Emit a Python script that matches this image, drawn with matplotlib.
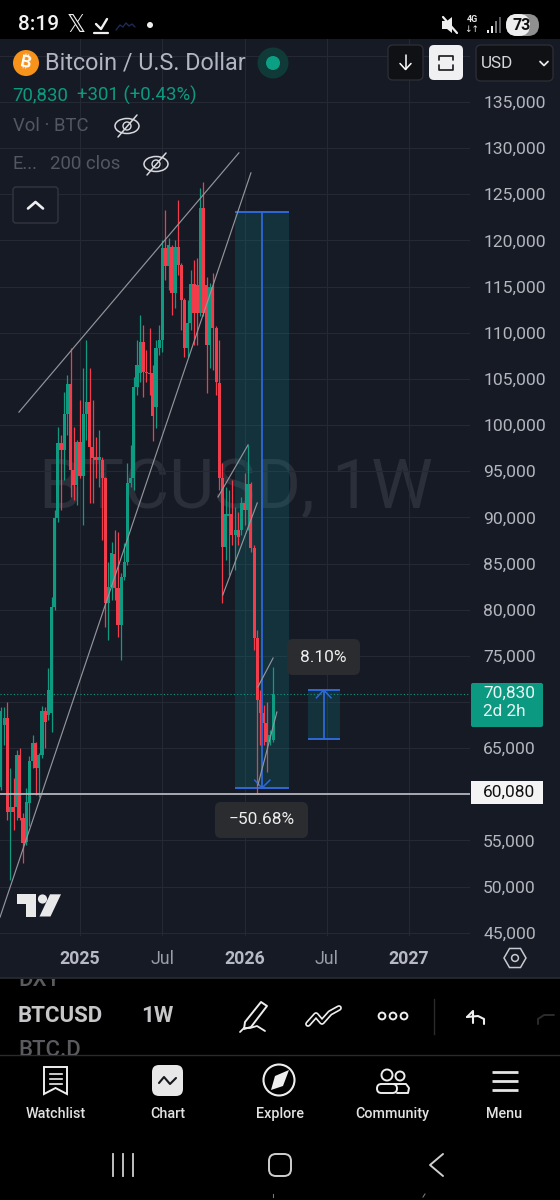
"""BTCUSD weekly chart, phone screenshot look."""

import matplotlib
matplotlib.use("Agg")
import matplotlib.pyplot as plt
from matplotlib.patches import Rectangle, FancyBboxPatch, Circle, Ellipse, Polygon, RegularPolygon
import numpy as np

plt.rcParams["font.family"] = ["Roboto", "DejaVu Sans"]

# weekly candles, week 0 = first week of 2025
first_week = -25
opens = [60790, 67510, 68270, 58070, 58620, 58620, 64260, 57420, 54820, 59050, 63600, 65560, 62850, 64260, 69030,
         68590, 68810, 80290, 89940, 98070, 97310, 101210, 104450, 95140, 93510, 98170, 94490, 101210, 102510, 97630,
         96550, 96220, 96220, 94270, 80720, 82450, 86030, 82340, 78330, 83540, 85160, 93730, 94270, 104120, 105630,
         109000, 105740, 105630, 105630, 101960, 108350, 109210, 119190, 117240, 119300, 114310, 119300, 117340,
         113550, 108350, 111060, 115280, 115180, 112140, 123530, 115180, 108670, 114960, 110520, 104550, 94270, 86790,
         90150, 90370, 88090, 88630, 88630, 91560, 90800, 93620, 86680, 76930, 70220, 68810, 67720, 65660, 65880]
highs = [69460, 69460, 70000, 62850, 61760, 64800, 65010, 57970, 60680, 64150, 66420, 65660, 64470, 69570, 69460,
         73690, 81370, 90800, 99800, 98940, 103590, 105420, 108350, 99800, 98390, 102730, 106180, 109220, 106180,
         102730, 98720, 99470, 96550, 94380, 85160, 87330, 88630, 88410, 83970, 87220, 95900, 97850, 105200, 109210,
         111920, 110840, 108080, 110510, 106500, 109210, 110840, 120060, 123310, 120270, 119510, 120060, 124390,
         117560, 113770, 113550, 116800, 117890, 118100, 125700, 126350, 116050, 115400, 116480, 110730, 109210,
         95900, 93290, 92970, 94050, 91130, 90580, 92210, 94810, 97850, 93840, 87000, 77790, 71300, 69680, 70000,
         66970, 73800]
lows = [60460, 65340, 57210, 50700, 56120, 57210, 57210, 52540, 54500, 56560, 62850, 59920, 59700, 63930, 65010,
        68050, 66750, 79960, 89500, 90800, 94050, 98940, 92210, 91880, 91340, 94270, 89170, 98390, 91560, 91560,
        94270, 93290, 87550, 78110, 76700, 81040, 81040, 77030, 74540, 83210, 84840, 93290, 92970, 103250, 104660,
        103030, 104660, 103250, 98270, 99690, 107590, 107910, 115720, 114630, 111920, 112680, 116260, 110300, 107370,
        107370, 110300, 108670, 108670, 111820, 111820, 103470, 106180, 105960, 103250, 92970, 80720, 85380, 83750,
        87000, 84290, 87000, 88090, 89170, 88630, 86250, 75620, 60080, 65340, 65340, 62410, 65340, 65660]
closes = [69000, 68270, 58070, 58620, 58070, 64260, 57420, 54710, 59160, 63600, 65560, 62850, 64260, 69030, 67830,
          71300, 80290, 89940, 98070, 97310, 101210, 104450, 95140, 93510, 98170, 94490, 101210, 102510, 97630, 96440,
          96220, 96550, 94270, 80720, 82450, 86140, 82340, 78330, 83540, 85160, 93730, 94270, 104120, 106500, 109000,
          105740, 105630, 105530, 100990, 108350, 109210, 119190, 117240, 119510, 114310, 119300, 117340, 113550,
          108350, 111060, 115280, 112140, 112140, 123530, 112140, 108670, 114960, 110520, 104660, 94270, 86790, 90370,
          90370, 88090, 88630, 87870, 91560, 90800, 93620, 86680, 76930, 70220, 68810, 67720, 65660, 66420, 70830]

price_ticks = [45000, 50000, 55000, 60000, 65000, 70000, 75000, 80000, 85000, 90000, 95000, 100000, 105000, 110000,
               115000, 120000, 125000, 130000, 135000]
covered_ticks = [60000, 70000]  # sit under the price tags
hidden_tick = 140000
date_weeks = [0, 26, 52, 78, 104]
date_labels = ["2025", "Jul", "2026", "Jul", "2027"]

last_price = 70830
low_line = 60080

# user drawings as (week, price) pairs
trend_lines = [
    [(-19.3, 101400), (50.2, 129490)],
    [(-25.28, 46680), (54.0, 127320)],
    [(43.6, 92210), (53.1, 97850)],
    [(45.1, 81580), (56.0, 91560)],
    [(56.2, 71620), (61.0, 74760)],
    [(56.2, 60990), (62.2, 68910)],
]
drop_box = (49.0, 66.0, 123080, 60680)
drop_mid = 57.5
rise_box = (72.0, 82.2, 65950, 71300)
rise_mid = 77.0

UP = "#0f9a82"
DOWN = "#f23c4c"
PANEL = "#161a25"
GRID = "#252934"
BLUE = "#2f68d8"
W, H = 560, 1200

fig = plt.figure(figsize=(W / 100, H / 100), dpi=100, facecolor="black")

bg = fig.add_axes([0, 0, 1, 1], zorder=0)
bg.set_xlim(0, W)
bg.set_ylim(H, 0)
bg.axis("off")
bg.add_patch(Rectangle((0, 39), W, 939, color=PANEL, lw=0))
bg.plot([0, W], [978, 978], color="#2b2c30", lw=1.2)

# price panel
ax = fig.add_axes([0, (H - 936) / H, 470 / W, (936 - 39) / H], zorder=1, facecolor=PANEL)
ax.set_xlim(-25.28, 123.22)
ax.set_ylim(44645, 141825)
for s in ax.spines.values():
    s.set_visible(False)

ax.yaxis.tick_right()
ax.set_yticks(price_ticks + [hidden_tick])
ax.set_yticklabels(["" if p in covered_ticks else f"{p:,}" for p in price_ticks] + [""], fontsize=12.6, color="#b4b6bd")
ax.set_xticks(date_weeks)
ax.set_xticklabels(date_labels, fontsize=12.8, color="#b7bac3")
for lab in ax.get_xticklabels():
    if lab.get_text() != "Jul":
        lab.set_fontweight("bold")
    else:
        lab.set_color("#9a9da6")
ax.tick_params(axis="both", length=0)
ax.tick_params(axis="y", pad=9.5)
ax.tick_params(axis="x", pad=10)
ax.grid(True, color=GRID, lw=0.8)
ax.set_axisbelow(True)

# watermark
ax.text(0.502, 93100, "BTCUSD, 1W", transform=ax.get_yaxis_transform(), ha="center", va="center",
        fontsize=50, color="#2b2f3a", zorder=0.5)

# measure boxes
x0, x1, top, bottom = drop_box
ax.add_patch(Rectangle((x0, bottom), x1 - x0, top - bottom, color="#0e7a80", alpha=0.26, lw=0, zorder=1))
ax.hlines([top, bottom], x0, x1, color=BLUE, lw=1.4, zorder=2)
ax.vlines(drop_mid, bottom, top, color=BLUE, lw=1.3, zorder=4)
ax.plot([drop_mid - 2.3, drop_mid, drop_mid + 2.5], [bottom + 850, bottom, bottom + 850], color=BLUE, lw=1.1, zorder=4)

x0, x1, bottom, top = rise_box
ax.add_patch(Rectangle((x0, bottom), x1 - x0, top - bottom, color="#0e7a80", alpha=0.26, lw=0, zorder=1))
ax.hlines([top, bottom], x0, x1, color=BLUE, lw=1.4, zorder=2)
ax.vlines(rise_mid, bottom, top, color=BLUE, lw=1.3, zorder=4)
ax.plot([rise_mid - 2.3, rise_mid, rise_mid + 2.3], [top - 850, top, top - 850], color=BLUE, lw=1.1, zorder=4)

# candles
weeks = np.arange(first_week, first_week + len(opens))
opens_a, closes_a = np.array(opens), np.array(closes)
colors = [UP if c >= o else DOWN for o, c in zip(opens, closes)]
ax.vlines(weeks, lows, highs, colors=colors, lw=0.9, zorder=3)
ax.bar(weeks, np.maximum(np.abs(closes_a - opens_a), 120), bottom=np.minimum(opens_a, closes_a), width=0.98,
       color=colors, lw=0, zorder=3)

for line in trend_lines:
    ax.plot([line[0][0], line[1][0]], [line[0][1], line[1][1]], color="#94959b", lw=0.85, zorder=5)

ax.axhline(last_price, color=UP, lw=0.8, ls=(0, (1, 2)), zorder=2.5)
ax.axhline(low_line, color="#b5b4bc", lw=1.3, zorder=5)

# everything that sits on top of the chart, in screen pixels
ui = fig.add_axes([0, 0, 1, 1], zorder=5)
ui.set_xlim(0, W)
ui.set_ylim(H, 0)
ui.axis("off")


def box(x0, y0, x1, y1, r=5, fc="none", ec="none", lw=1, **kw):
    p = FancyBboxPatch((x0, y0), x1 - x0, y1 - y0, boxstyle=f"round,pad=0,rounding_size={r}", fc=fc, ec=ec, lw=lw, **kw)
    ui.add_patch(p)
    return p


def txt(x, y, s, size, color="white", ha="left", weight="normal", **kw):
    return ui.text(x, y, s, fontsize=size, color=color, ha=ha, va="center", fontweight=weight, **kw)


def stroke(xs, ys, color="white", lw=1.2, **kw):
    ui.plot(xs, ys, color=color, lw=lw, solid_capstyle="round", solid_joinstyle="round", **kw)


def eye_off(x, y):
    ui.add_patch(Ellipse((x, y), 24, 15, fc="none", ec="#d8d9dd", lw=1.1))
    ui.add_patch(Circle((x, y), 4, fc="none", ec="#d8d9dd", lw=1))
    stroke([x - 9, x + 10], [y + 11, y - 11], "#d8d9dd", 1.1)


# status bar
ui.add_patch(Rectangle((0, 0), W, 39, color="black", lw=0))
txt(18, 25, "8:19", 15, "#f2f2f2", weight="medium")
txt(76, 25, "𝕏", 17, "#f0f0f0", ha="center", family=["DejaVu Sans"])
stroke([96, 101, 107], [24, 29, 19], "#f0f0f0", 1.7)
stroke([94, 108], [33, 33], "#f0f0f0", 1.6)
stroke([116, 120, 123, 126, 129, 132, 135], [30, 25, 27, 23, 26, 24, 27], "#1d2b55", 1)
ui.add_patch(Circle((150, 25), 3, color="#eeeeee", lw=0))
ui.add_patch(Polygon([[442, 21], [447, 21], [452, 17], [452, 33], [447, 29], [442, 29]], color="#eeeeee", lw=0))
stroke([443, 457], [17, 33], "#eeeeee", 1.6)
txt(472, 20, "4G", 6.5, "#e8e8e8", ha="center", weight="bold")
txt(472, 30, "↓↑", 6.5, "#e8e8e8", ha="center", family=["DejaVu Sans"])
for bx, by, col in [(487, 30, "#eeeeee"), (491, 26, "#eeeeee"), (495, 21, "#77777a"), (499, 17, "#55555a")]:
    ui.add_patch(Rectangle((bx, by), 1.7, 33 - by, color=col, lw=0))
box(506, 14, 539, 36, r=11, fc="#8f8f90")
box(506, 14, 530, 36, r=11, fc="#eeeeee")
txt(522, 25, "73", 11.5, "#111111", ha="center", weight="bold")

# header
ui.add_patch(Circle((26, 63), 13, color="#f7931a", lw=0))
txt(26, 63, "₿", 12, "white", ha="center", weight="bold", rotation=-12,
    family=["Inter", "Noto Sans", "Open Sans", "Lato", "Liberation Sans", "DejaVu Sans"])
txt(45, 63, "Bitcoin / U.S. Dollar", 16.8, "#b3b6c2")
ui.add_patch(Circle((273, 63), 15.5, color="#0f3a38", lw=0))
ui.add_patch(Circle((273, 63), 7, color="#0b9f83", lw=0))
box(388, 45, 423, 80, r=5, fc="#101114", ec="#2b2d33")
stroke([405.5, 405.5], [55, 69], "white", 1.1)
stroke([400, 405.5, 411], [63.5, 69.5, 63.5], "white", 1.1)
box(429, 45, 463, 80, r=5, fc="#f0f0f2")
stroke([439, 439, 453, 453], [60, 55.5, 55.5, 60], "#16181d", 1.2)
stroke([439, 439, 453, 453], [65, 70, 70, 65], "#16181d", 1.2)
box(476, 45, 553, 81, r=5, fc="#101114", ec="#2b2d33")
txt(481, 63, "USD", 12.3, "#d6d7db")
stroke([540, 544, 548], [61.5, 65.5, 61.5], "#e6e6e6", 1.3)

txt(12, 95, "70,830", 13.4, "#0c9a80")
txt(77, 95, "+301 (+0.43%)", 13.4, "#0c9a80")
txt(13, 126, "Vol · BTC", 13.3, "#54575f")
eye_off(127, 126)
txt(13, 164, "E...", 13.3, "#54575f")
txt(50, 164, "200 clos", 13.4, "#54575f")
eye_off(156, 164)
box(13, 187, 58, 223, r=3, fc=PANEL, ec="#33363f", lw=1)
stroke([28, 35.5, 43], [208.5, 202, 208.5], "#eeeeee", 1.9)

# TV logo
logo = "#e9e9e9"
ui.add_patch(Polygon([[17.3, 894.3], [35.7, 894.3], [35.7, 916.5], [26, 916.5], [26, 904], [17.3, 904]], color=logo, lw=0))
ui.add_patch(Circle((42.5, 899), 4.6, color=logo, lw=0))
ui.add_patch(Polygon([[50, 894.3], [61, 894.3], [50.5, 916.5], [39.5, 916.5]], color=logo, lw=0))

# price tags and measure labels
box(471, 683, 543, 727, r=2, fc="#0b9a81")
txt(483, 693, "70,830", 12.4, "#e9f5f2")
txt(483, 712, "2d 2h", 12.4, "#e9f5f2")
ui.add_patch(Rectangle((471, 781), 72, 23, color="#f4f4f4", lw=0))
txt(483, 792.5, "60,080", 12.4, "#111111")
box(287, 639, 360, 675, r=6, fc="#2b2c30")
txt(323.5, 657, "8.10%", 12.4, "#eeeeee", ha="center")
box(215, 802, 308, 838, r=6, fc="#2b2c30")
txt(261.5, 820, "−50.68%", 12.4, "#eeeeee", ha="center")

# settings hexagon
ui.add_patch(RegularPolygon((515, 958), 6, radius=11, orientation=np.pi / 6, fc="none", ec="#c8c9ce", lw=1.1))
ui.add_patch(Circle((515, 958), 3.4, fc="none", ec="#c8c9ce", lw=1.1))

# toolbar, the rows above and below the current symbol are cut off
t = txt(18, 981, "DXY", 16, "#5a5b5f", weight="medium", clip_on=True)
t.set_clip_path(Rectangle((0, 979), W, 20, transform=ui.transData))
t = txt(18, 1051, "BTC.D", 16, "#5a5b5f", weight="medium", clip_on=True)
t.set_clip_path(Rectangle((0, 1035), W, 20, transform=ui.transData))
ui.plot([0, W], [1055, 1055], color="#2b2b2e", lw=1)

txt(18, 1016, "BTCUSD", 16, "#c6c6c8", weight="bold")
txt(141, 1016, "1W", 16, "#c6c6c8", weight="bold")
ui.add_patch(Polygon([[245, 1022], [261, 1002], [267, 1006], [251, 1027], [244, 1029]], fc="none", ec="#eeeeee", lw=1.4, joinstyle="round"))
stroke([240, 244, 250, 257, 265], [1032, 1028, 1028, 1026, 1031], "#eeeeee", 1.3)
stroke([308, 316, 322, 330, 339], [1024, 1015, 1022, 1013, 1008], "#eeeeee", 4.2)
stroke([308, 316, 322, 330, 339], [1024, 1015, 1022, 1013, 1008], "black", 1.8)
for cx in (382, 393, 404):
    ui.add_patch(Circle((cx, 1016), 3.4, fc="none", ec="#eeeeee", lw=1.4))
ui.plot([434, 434], [999, 1034], color="#2b2b2e", lw=1)
stroke([467, 473, 473], [1017, 1011, 1023], "#eeeeee", 1.5)
stroke([467, 478, 484, 484], [1017, 1016, 1019, 1024], "#eeeeee", 1.5)
stroke([554, 544, 538, 538], [1015, 1015, 1019, 1024], "#2c2c2e", 1.4)

# bottom nav
doc = [[44, 1067], [67, 1067], [67, 1094], [55.5, 1088], [44, 1094]]
ui.add_patch(Polygon(doc, fc="none", ec="#eeeeee", lw=1.4))
for ly in (1074, 1079, 1084):
    ui.plot([50, 62], [ly, ly], color="#eeeeee", lw=1.2)
box(152, 1065, 183, 1096, r=7, fc="#e8e8e8")
stroke([159, 164, 170, 176], [1083, 1077, 1084, 1078], "#16181d", 1.5)
ui.add_patch(Circle((279, 1080), 15.5, fc="none", ec="#eeeeee", lw=1.5))
ui.add_patch(Polygon([[289, 1070], [283, 1086], [271, 1090], [275, 1076]], color="#eeeeee", lw=0))
ui.add_patch(Circle((387, 1075), 5.5, fc="none", ec="#eeeeee", lw=1.4))
ui.add_patch(Circle((400, 1076), 4.5, fc="none", ec="#eeeeee", lw=1.4))
box(377, 1084, 397, 1093, r=4.5, ec="#eeeeee", lw=1.4)
stroke([397, 408, 409, 406, 394], [1093, 1093, 1088, 1084, 1084], "#eeeeee", 1.4)
for ly in (1072, 1081, 1090):
    ui.plot([492, 518], [ly, ly], color="#e4e4e4", lw=2, solid_capstyle="butt")
for lx, name in zip((56, 168, 280, 392, 504), ("Watchlist", "Chart", "Explore", "Community", "Menu")):
    txt(lx, 1114, name, 10.4, "#e2e2e2", ha="center", weight="medium")

# android keys
for kx in (113, 123, 133):
    ui.plot([kx, kx], [1154, 1176], color="#cfcfcf", lw=1.3)
box(269, 1154, 291, 1176, r=7, ec="#cfcfcf", lw=1.4)
stroke([443, 430, 443], [1154, 1165, 1176], "#cfcfcf", 1.4)
ui.plot([273, 273], [1194, 1197], color="#777777", lw=0.8)
ui.plot([423, 425], [1197, 1194], color="#777777", lw=0.8)

fig.savefig("out.png", dpi=100, facecolor="black")
